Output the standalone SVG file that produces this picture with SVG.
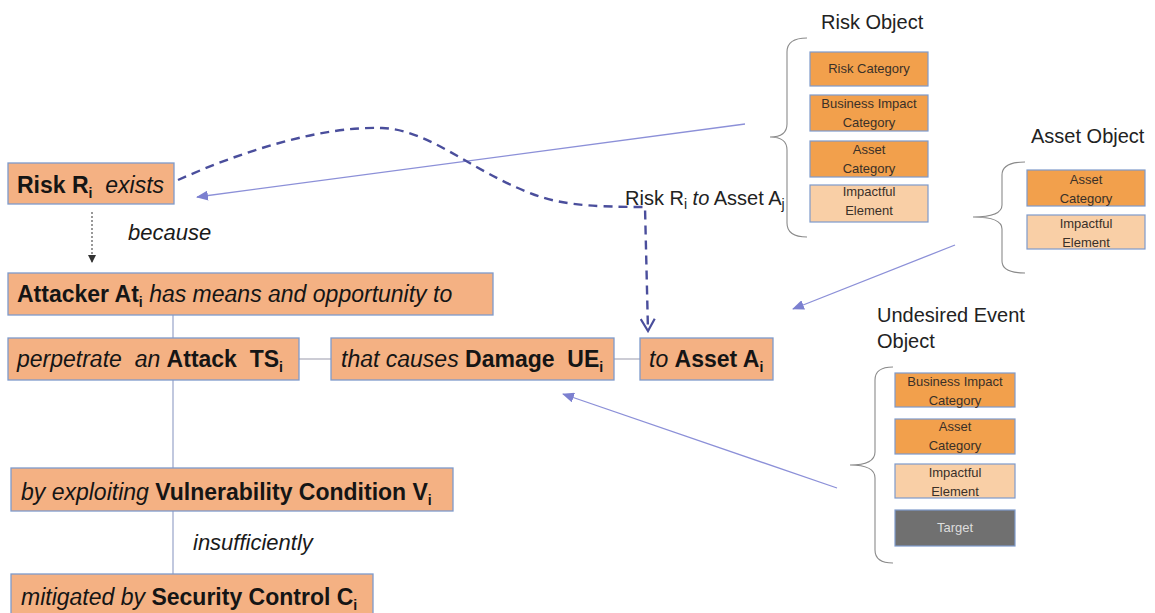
<svg xmlns="http://www.w3.org/2000/svg" width="1155" height="613" viewBox="0 0 1155 613">
<style>
.bg{fill:#ffffff}
.box{fill:#F4B183;stroke:#7E9ACB;stroke-width:1.3}
.dk{fill:#F2A04C;stroke:#7E9ACB;stroke-width:1.2}
.lt{fill:#F9CFA6;stroke:#7E9ACB;stroke-width:1.2}
.gr{fill:#707070;stroke:#7E9ACB;stroke-width:1.2}
.t{font-family:"Liberation Sans",Arial,sans-serif;font-size:23px;fill:#151515;white-space:pre}
.b{font-weight:bold}
.i{font-style:italic}
.sub{font-size:14px}
.lbl{font-family:"Liberation Sans",Arial,sans-serif;font-size:22px;font-style:italic;fill:#1a1a1a;white-space:pre}
.ttl{font-family:"Liberation Sans",Arial,sans-serif;font-size:20px;fill:#222;white-space:pre}
.s{font-family:"Liberation Sans",Arial,sans-serif;font-size:13px;fill:#3a3028;text-anchor:middle}
.sw{font-family:"Liberation Sans",Arial,sans-serif;font-size:13px;fill:#dddddd;text-anchor:middle}
.brace{fill:none;stroke:#8a8a8a;stroke-width:1.1}
.solid{fill:none;stroke:#8C90D8;stroke-width:1.3}
.tree{fill:none;stroke:#8E9BC4;stroke-width:1.1}
.hl{fill:none;stroke:#B0B0BE;stroke-width:1.3}
.dash{fill:none;stroke:#4A4E9C;stroke-width:2.4;stroke-dasharray:9 6}
.dot{fill:none;stroke:#555;stroke-width:1.2;stroke-dasharray:2 2}
</style>
<defs>
<marker id="tri" markerUnits="userSpaceOnUse" markerWidth="12" markerHeight="10" refX="11" refY="5" orient="auto">
<path d="M0,0 L12,5 L0,10 Z" fill="#7C80D0"/>
</marker>
<marker id="vee" markerUnits="userSpaceOnUse" markerWidth="16" markerHeight="16" refX="14" refY="8" orient="auto">
<path d="M2,1 L14,8 L2,15" fill="none" stroke="#4A4E9C" stroke-width="2.2"/>
</marker>
<marker id="small" markerUnits="userSpaceOnUse" markerWidth="8" markerHeight="8" refX="7" refY="4" orient="auto">
<path d="M0,0 L8,4 L0,8 Z" fill="#333"/>
</marker>
</defs>
<rect class="bg" x="0" y="0" width="1155" height="613"/>

<g id="connectors">
<line class="tree" x1="173" y1="315" x2="173" y2="574"/>
<line class="hl" x1="299" y1="359" x2="331" y2="359"/>
<line class="hl" x1="614" y1="359" x2="640" y2="359"/>
<line class="dot" x1="92" y1="212" x2="92" y2="262" marker-end="url(#small)"/>
<line class="solid" x1="745" y1="124" x2="197" y2="197" marker-end="url(#tri)"/>
<line class="solid" x1="955" y1="245" x2="793" y2="309" marker-end="url(#tri)"/>
<line class="solid" x1="837" y1="488" x2="563" y2="394" marker-end="url(#tri)"/>
<path class="dash" d="M178,180 C240,152 320,126 382,128 C430,130 470,170 530,193 C555,203 580,207 645,207 L648,331" marker-end="url(#vee)"/>
<text class="ttl" x="625" y="205">Risk R<tspan class="sub" dy="4">i</tspan><tspan dy="-4" class="i"> to</tspan> Asset A<tspan class="sub" dy="4">j</tspan></text>
<text class="lbl" x="128" y="240">because</text>
<text class="lbl" x="193" y="550">insufficiently</text>
</g>

<g id="risk">
<rect class="box" x="8" y="163" width="166" height="41"/>
<text class="t" x="17" y="193"><tspan class="b">Risk R</tspan><tspan class="sub b" dy="5">i</tspan><tspan dy="-5" class="i">  exists</tspan></text>
</g>
<g id="attacker">
<rect class="box" x="8" y="273" width="485" height="42"/>
<text class="t" x="17" y="302"><tspan class="b">Attacker At</tspan><tspan class="sub b" dy="5">i</tspan><tspan dy="-5" class="i"> has means and opportunity to</tspan></text>
</g>
<g id="attack">
<rect class="box" x="8" y="338" width="291" height="42"/>
<text class="t" x="17" y="367"><tspan class="i">perpetrate  an </tspan><tspan class="b">Attack  TS</tspan><tspan class="sub b" dy="5">i</tspan></text>
</g>
<g id="damage">
<rect class="box" x="331" y="338" width="283" height="42"/>
<text class="t" x="341" y="367"><tspan class="i">that causes </tspan><tspan class="b">Damage  UE</tspan><tspan class="sub b" dy="5">i</tspan></text>
</g>
<g id="asset">
<rect class="box" x="640" y="338" width="133" height="42"/>
<text class="t" x="649" y="367"><tspan class="i">to </tspan><tspan class="b">Asset A</tspan><tspan class="sub b" dy="5">i</tspan></text>
</g>
<g id="vulnerability">
<rect class="box" x="11" y="468" width="442" height="43"/>
<text class="t" x="21" y="500"><tspan class="i">by exploiting </tspan><tspan class="b">Vulnerability Condition V</tspan><tspan class="sub b" dy="5">i</tspan></text>
</g>
<g id="control">
<rect class="box" x="11" y="574" width="362" height="42"/>
<text class="t" x="21" y="605"><tspan class="i">mitigated by </tspan><tspan class="b">Security Control C</tspan><tspan class="sub b" dy="5">i</tspan></text>
</g>

<g id="risk-object">
<text class="ttl" x="821" y="29">Risk Object</text>
<path class="brace" d="M807,38 Q787,38 787,52 L787,124 Q787,137 770,137 Q787,137 787,150 L787,223 Q787,237 807,237"/>
<rect class="dk" x="810" y="52" width="118" height="34"/>
<text class="s" x="869" y="73">Risk Category</text>
<rect class="dk" x="810" y="95" width="118" height="36"/>
<text class="s" x="869" y="108">Business Impact</text>
<text class="s" x="869" y="127">Category</text>
<rect class="dk" x="810" y="141" width="118" height="36"/>
<text class="s" x="869" y="154">Asset</text>
<text class="s" x="869" y="173">Category</text>
<rect class="lt" x="810" y="185" width="118" height="37"/>
<text class="s" x="869" y="196">Impactful</text>
<text class="s" x="869" y="215">Element</text>
</g>

<g id="asset-object">
<text class="ttl" x="1031" y="143">Asset Object</text>
<path class="brace" d="M1025,162 Q1002,162 1002,175 L1002,205 Q1002,217 973,217 Q1002,217 1002,229 L1002,261 Q1002,273 1025,273"/>
<rect class="dk" x="1027" y="170" width="118" height="36"/>
<text class="s" x="1086" y="184">Asset</text>
<text class="s" x="1086" y="203">Category</text>
<rect class="lt" x="1027" y="215" width="118" height="34"/>
<text class="s" x="1086" y="228">Impactful</text>
<text class="s" x="1086" y="247">Element</text>
</g>

<g id="undesired-event-object">
<text class="ttl" x="877" y="322">Undesired Event</text>
<text class="ttl" x="877" y="348">Object</text>
<path class="brace" d="M893,367 Q875,367 875,380 L875,452 Q875,465 850,465 Q875,465 875,478 L875,550 Q875,563 893,563"/>
<rect class="dk" x="895" y="373" width="120" height="34"/>
<text class="s" x="955" y="386">Business Impact</text>
<text class="s" x="955" y="405">Category</text>
<rect class="dk" x="895" y="419" width="120" height="35"/>
<text class="s" x="955" y="431">Asset</text>
<text class="s" x="955" y="450">Category</text>
<rect class="lt" x="895" y="464" width="120" height="34"/>
<text class="s" x="955" y="477">Impactful</text>
<text class="s" x="955" y="496">Element</text>
<rect class="gr" x="895" y="510" width="120" height="36"/>
<text class="sw" x="955" y="532">Target</text>
</g>
</svg>
